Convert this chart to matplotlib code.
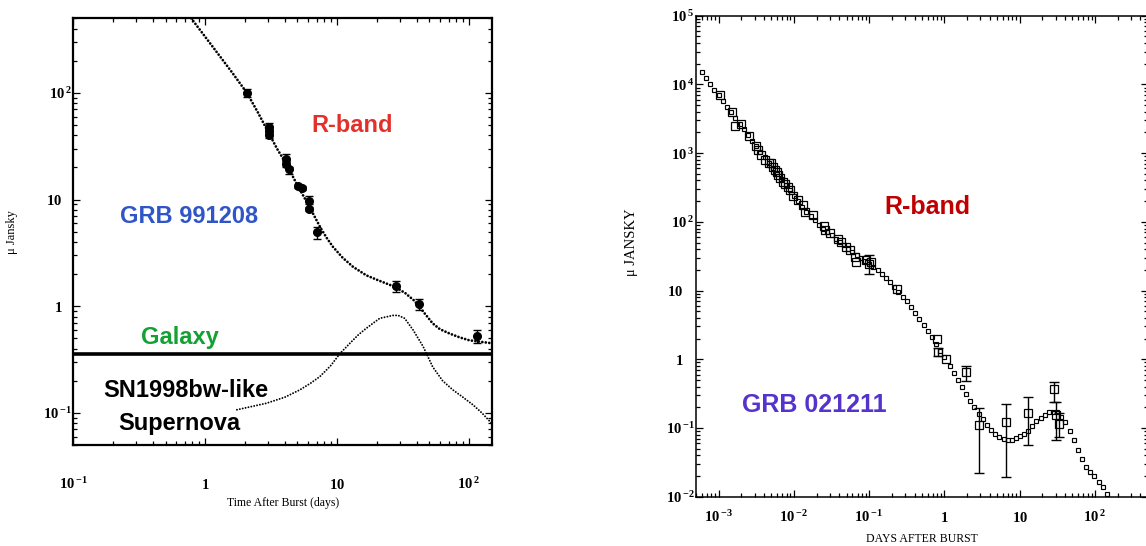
import matplotlib
matplotlib.use("Agg")
import matplotlib.pyplot as plt
import matplotlib.transforms as mtransforms
from matplotlib.ticker import FixedLocator, FixedFormatter, LogLocator, NullFormatter

# --- GRB 991208 (left) ---
grb991208_days = [2.07, 3.04, 3.04, 3.06, 4.07, 4.07, 4.3, 5.08, 5.38, 6.1, 6.1, 7.08, 27.8, 41.8, 115]
grb991208_flux = [100, 47.6, 43.5, 40.0, 24.0, 21.4, 19.2, 13.4, 12.9, 9.6, 8.2, 5.0, 1.56, 1.05, 0.53]
grb991208_err_lo = [9, 2.5, 2.2, 2.0, 1.2, 1.1, 1.7, 0.7, 0.6, 0.5, 0.4, 0.7, 0.20, 0.13, 0.08]
grb991208_err_hi = [9, 4.4, 2.2, 2.0, 2.9, 1.1, 1.0, 0.7, 0.6, 1.1, 0.4, 0.5, 0.15, 0.11, 0.07]

total_days = [0.783, 1.0, 1.3, 1.6, 2.07, 2.5, 3.0, 3.5, 4.1, 5.0, 5.8, 6.56, 7.5, 8.3, 9.3, 11.0,
              13.2, 16.6, 20, 24, 28, 33, 38, 42, 47, 53, 60, 71, 85, 100, 120, 148]
total_flux = [500, 335, 218, 155, 100, 66, 43, 30, 21.7, 13.6, 9.8, 7.4, 5.4, 4.4, 3.6, 2.85,
              2.34, 1.95, 1.77, 1.62, 1.50, 1.32, 1.14, 0.99, 0.83, 0.69, 0.61, 0.555, 0.51, 0.48, 0.465, 0.45]

sn_days = [1.74, 2.9, 4.0, 5.2, 6.3, 7.4, 9.0, 10.5, 12.5, 14.5, 16.6, 21, 26.5, 29, 32.5, 37.6,
           44.8, 53, 63, 75.5, 90, 107, 125, 148]
sn_flux = [0.107, 0.123, 0.14, 0.164, 0.19, 0.219, 0.28, 0.36, 0.45, 0.54, 0.62, 0.77, 0.82, 0.82,
           0.77, 0.60, 0.42, 0.27, 0.20, 0.164, 0.14, 0.119, 0.10, 0.08]

galaxy_flux = 0.36

# --- GRB 021211 (right) ---
grb021211_days = [1.03e-3, 1.50e-3, 1.65e-3, 2.00e-3, 2.53e-3, 3.10e-3, 3.33e-3, 3.68e-3, 4.07e-3,
                  4.60e-3, 5.02e-3, 5.3e-3, 5.56e-3, 5.9e-3, 6.15e-3, 6.6e-3, 7.16e-3, 7.6e-3, 8.35e-3,
                  9.0e-3, 9.73e-3, 0.0115, 0.0132, 0.0139, 0.0179, 0.0249, 0.0256, 0.0299, 0.0386,
                  0.0428, 0.0499, 0.0552, 0.0644, 0.0678, 0.092, 0.0998, 0.107, 0.235, 0.785, 0.83,
                  1.04, 1.94, 2.92, 6.52, 12.9, 28.8, 30.8, 33.3]
grb021211_flux = [7015, 4009, 2477, 2624, 1791, 1268, 1109, 938, 793, 708, 711, 620, 568, 540, 480,
                  440, 384, 360, 324, 290, 238, 205, 176, 140, 126, 86.9, 76, 68, 55.6, 51.3, 43.4,
                  38.8, 31.0, 26.2, 27.8, 24.3, 26.2, 10.4, 1.95, 1.29, 1.02, 0.659, 0.109, 0.121,
                  0.167, 0.365, 0.154, 0.113]
# error bars only where they show in the picture
err_days = [0.0998, 0.83, 1.94, 2.92, 6.52, 12.9, 28.8, 30.8, 33.3]
err_flux = [24.3, 1.29, 0.659, 0.109, 0.121, 0.167, 0.365, 0.154, 0.113]
err_lo = [6.6, 0.17, 0.171, 0.0872, 0.1015, 0.1112, 0.125, 0.087, 0.040]
err_hi = [8.3, 0.19, 0.146, 0.084, 0.100, 0.112, 0.105, 0.086, 0.050]

model_days = [5.995e-4, 6.813e-4, 7.743e-4, 8.799e-4,
              1.000e-3, 1.136e-3, 1.292e-3, 1.468e-3, 1.668e-3, 1.896e-3, 2.154e-3, 2.448e-3, 2.783e-3,
              3.162e-3, 3.594e-3, 4.084e-3, 4.642e-3, 5.275e-3, 5.995e-3, 6.813e-3, 7.743e-3, 8.799e-3,
              0.01000, 0.01136, 0.01292, 0.01468, 0.01668, 0.01896, 0.02154, 0.02448, 0.02783,
              0.03162, 0.03594, 0.04084, 0.04642, 0.05275, 0.05995, 0.06813, 0.07743, 0.08799,
              0.1000, 0.1136, 0.1292, 0.1468, 0.1668, 0.1896, 0.2154, 0.2448, 0.2783,
              0.3162, 0.3594, 0.4084, 0.4642, 0.5275, 0.5995, 0.6813, 0.7743, 0.8799, 1.000,
              1.189, 1.343, 1.517, 1.718, 1.941, 2.213, 2.500, 2.858, 3.228, 3.681, 4.159, 4.753,
              5.370, 6.138, 6.934, 7.834, 8.933, 10.09, 11.43, 13.03, 14.72, 16.63, 19.01, 21.48,
              24.49, 27.67, 31.33, 35.73, 40.36, 46.13, 52.12, 59.43, 67.14, 76.03, 86.70, 97.95,
              111.9, 126.5, 142.9]
model_flux = [14930, 12330, 10190, 8414,
              6950, 5741, 4742, 3926, 3243, 2679, 2213, 1832, 1521,
              1262, 1050, 871.0, 724.4, 601.2, 498.9, 415.0, 344.3, 286.4,
              238.2, 198.6, 165.6, 140.0, 121.1, 104.7, 90.57, 79.43, 70.96,
              63.39, 56.62, 50.58, 45.29, 40.55, 36.39, 32.73, 29.44, 26.61,
              24.27, 22.08, 19.72, 17.22, 15.07, 13.15, 11.32, 9.616, 8.185,
              6.950, 5.768, 4.710, 3.855, 3.148, 2.570, 2.075, 1.663, 1.337, 1.074,
              0.798, 0.624, 0.493, 0.390, 0.312, 0.247, 0.1995, 0.1614, 0.1334, 0.1117, 0.0944, 0.0826,
              0.0738, 0.0682, 0.0667, 0.0675, 0.0706, 0.0755, 0.0807, 0.0912, 0.1067, 0.1262, 0.1409, 0.1560,
              0.1687, 0.1726, 0.1687, 0.1442, 0.1208, 0.0902, 0.0667, 0.0478, 0.0349, 0.0270, 0.0229, 0.0198,
              0.0163, 0.0137, 0.0109]

left_xticks = [0.1, 1, 10, 100]
left_xlabels = ["10^-1", "1", "10", "10^2"]
left_yticks = [0.1, 1, 10, 100]
left_ylabels = ["10^-1", "1", "10", "10^2"]
right_xticks = [1e-3, 1e-2, 1e-1, 1, 10, 100]
right_xlabels = ["10^-3", "10^-2", "10^-1", "1", "10", "10^2"]
right_yticks = [1e-2, 1e-1, 1, 10, 1e2, 1e3, 1e4, 1e5]
right_ylabels = ["10^-2", "10^-1", "1", "10", "10^2", "10^3", "10^4", "10^5"]

# --- style ---
plt.rcParams["font.family"] = "Liberation Serif"
plt.rcParams["font.weight"] = "bold"
plt.rcParams["mathtext.fontset"] = "custom"
plt.rcParams["mathtext.bf"] = "Liberation Serif:bold"
plt.rcParams["mathtext.rm"] = "Liberation Serif:bold"
plt.rcParams["mathtext.it"] = "Liberation Serif:italic:bold"

W, H = 1146, 546
fig = plt.figure(figsize=(W / 100, H / 100), dpi=100)


def px_axes(l, t, r, b):
    return fig.add_axes([l / W, 1 - b / H, (r - l) / W, (b - t) / H])


def tex(lbl):
    # "10^2" -> bold 10 with a raised exponent, like the old plot package
    if "^" in lbl:
        base, ex = lbl.split("^")
        return r"$\mathbf{%s}^{\;\mathbf{%s}}$" % (base, ex)
    return r"$\mathbf{%s}$" % lbl


def style_axis(ax, xt, xl, yt, yl, xpad, ypad, spine_w, sup_shift):
    ax.set_xscale("log")
    ax.set_yscale("log")
    ax.xaxis.set_major_locator(FixedLocator(xt))
    ax.xaxis.set_major_formatter(FixedFormatter([tex(s) for s in xl]))
    ax.yaxis.set_major_locator(FixedLocator(yt))
    ax.yaxis.set_major_formatter(FixedFormatter([tex(s) for s in yl]))
    for a in (ax.xaxis, ax.yaxis):
        a.set_minor_locator(LogLocator(base=10, subs=range(2, 10), numticks=60))
        a.set_minor_formatter(NullFormatter())
    ax.tick_params(which="both", direction="in", top=True, right=True, width=0.9, labelsize=10.5)
    ax.tick_params(which="major", length=5)
    ax.tick_params(which="minor", length=3)
    ax.tick_params(axis="x", pad=xpad)
    ax.tick_params(axis="y", pad=ypad)
    for lbl in ax.get_xticklabels():
        lbl.set_va("baseline")
    # exponents hang out to the right of the "10", nearly touching the axis
    shift = mtransforms.ScaledTranslation(sup_shift / 100, 0, fig.dpi_scale_trans)
    for lbl in ax.get_yticklabels():
        if "^" in lbl.get_text():
            lbl.set_transform(lbl.get_transform() + shift)
    for s in ax.spines.values():
        s.set_linewidth(spine_w)


def ptext(x, y, s, color, size):
    fig.text(x / W, 1 - y / H, s, color=color, fontsize=size, ha="center", va="baseline",
             family="Liberation Sans", weight="bold")


# ---------------- left panel ----------------
ax1 = px_axes(73.3, 18.3, 492.3, 445)
ax1.set_xlim(0.1, 150)
ax1.set_ylim(0.05, 500)
style_axis(ax1, left_xticks, left_xlabels, left_yticks, left_ylabels, 31.5, 8.0, 1.6, 10)

ax1.plot(total_days, total_flux, color="black", lw=2.0, ls=(0, (0.01, 1.25)), dash_capstyle="round")
ax1.plot(sn_days, sn_flux, color="black", lw=1.4, ls=(0, (0.01, 1.5)), dash_capstyle="round")
ax1.axhline(galaxy_flux, color="black", lw=2.6)
ax1.errorbar(grb991208_days, grb991208_flux, yerr=[grb991208_err_lo, grb991208_err_hi], fmt="o",
             ms=5.5, color="black", ecolor="black", elinewidth=1, capsize=3, capthick=1)

ax1.set_ylabel("μ Jansky", fontsize=9)
ax1.yaxis.set_label_coords(-0.132, 0.5)
ax1.set_xlabel("Time After Burst (days)", fontsize=8.5)
ax1.xaxis.set_label_coords(0.5, -0.122)

ptext(352.5, 132, "R-band", "#e2302b", 17)
ptext(188.7, 222.7, "GRB 991208", "#2f55c8", 17)
ptext(180, 344.3, "Galaxy", "#14a033", 17)
ptext(186, 396.7, "SN1998bw-like", "black", 17)
ptext(179.7, 430, "Supernova", "black", 17)

# ---------------- right panel ----------------
ax2 = px_axes(696, 15.7, 1147.6, 496.7)
ax2.set_xlim(5e-4, 500)
ax2.set_ylim(1e-2, 1e5)
style_axis(ax2, right_xticks, right_xlabels, right_yticks, right_ylabels, 18, 9.0, 1.1, 11.5)

ax2.plot(model_days, model_flux, ls="none", marker="s", ms=2.8, mfc="white", mec="black", mew=0.85)
ax2.plot(grb021211_days, grb021211_flux, ls="none", marker="s", ms=6.3, mfc="none", mec="black", mew=0.9)
ax2.errorbar(err_days, err_flux, yerr=[err_lo, err_hi], fmt="none", ecolor="black",
             elinewidth=1, capsize=3.5, capthick=1)

ax2.set_ylabel("μ JANSKY", fontsize=10.5)
ax2.yaxis.set_label_coords(-0.129, 0.53)
ax2.set_xlabel("DAYS AFTER BURST", fontsize=8.5)
ax2.xaxis.set_label_coords(0.5, -0.075)

ptext(927.5, 214, "R-band", "#c00000", 18)
ptext(814.5, 412, "GRB 021211", "#5533cc", 18)

fig.savefig("out.png", dpi=100)
